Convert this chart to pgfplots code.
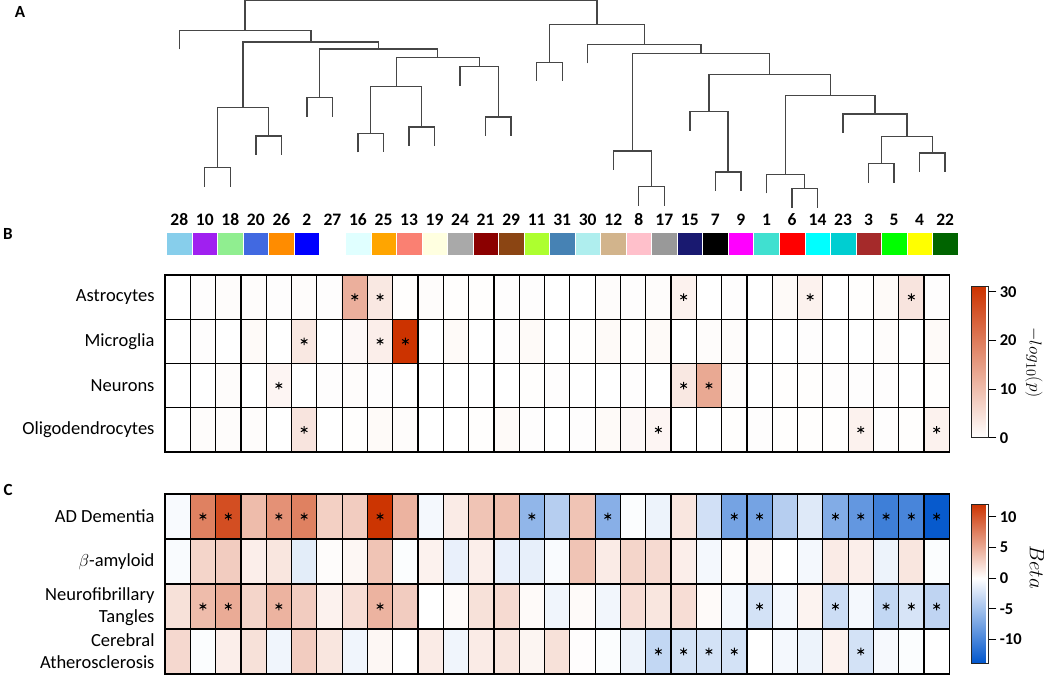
\documentclass[border=0pt]{standalone}
\usepackage{fontspec}
\setmainfont{Carlito}
\usepackage{pgfplots}
\pgfplotsset{compat=1.18}

\newcommand{\rowfont}{\fontsize{18.5}{22}\selectfont}
\newcommand{\numfont}{\fontsize{17.5}{20}\selectfont\bfseries}
\newcommand{\cbfont}{\fontsize{16.5}{20}\selectfont\bfseries}

\definecolor{dgray}{RGB}{70,70,70}
% cluster colours, strip order
\definecolor{s28}{RGB}{135,206,235}
\definecolor{s10}{RGB}{160,32,240}
\definecolor{s18}{RGB}{144,238,144}
\definecolor{s20}{RGB}{65,105,225}
\definecolor{s26}{RGB}{255,140,0}
\definecolor{s2}{RGB}{0,0,255}
\definecolor{s27}{RGB}{255,255,255}
\definecolor{s16}{RGB}{224,255,255}
\definecolor{s25}{RGB}{255,165,0}
\definecolor{s13}{RGB}{250,128,114}
\definecolor{s19}{RGB}{255,255,224}
\definecolor{s24}{RGB}{169,169,169}
\definecolor{s21}{RGB}{139,0,0}
\definecolor{s29}{RGB}{139,69,19}
\definecolor{s11}{RGB}{173,255,47}
\definecolor{s31}{RGB}{70,130,180}
\definecolor{s30}{RGB}{175,238,238}
\definecolor{s12}{RGB}{210,180,140}
\definecolor{s8}{RGB}{255,192,203}
\definecolor{s17}{RGB}{153,153,153}
\definecolor{s15}{RGB}{25,25,112}
\definecolor{s7}{RGB}{0,0,0}
\definecolor{s9}{RGB}{255,0,255}
\definecolor{s1}{RGB}{64,224,208}
\definecolor{s6}{RGB}{255,0,0}
\definecolor{s14}{RGB}{0,255,255}
\definecolor{s23}{RGB}{0,206,209}
\definecolor{s3}{RGB}{165,42,42}
\definecolor{s5}{RGB}{0,255,0}
\definecolor{s4}{RGB}{255,255,0}
\definecolor{s22}{RGB}{0,100,0}

\pgfplotsset{
  mydnd/.style={color=dgray, line width=1.3pt, mark=none},
  myheat/.style={
    scale only axis, width=784.3pt,
    xmin=-0.5, xmax=30.5, ymin=-0.5, ymax=3.5, y dir=reverse,
    xtick={-0.5,0.5,...,30.5}, xticklabels={}, xmajorgrids,
    ytick={0,1,2,3}, major tick length=0pt,
    extra y ticks={0.5,1.5,2.5}, extra y tick labels={},
    extra y tick style={grid=major},
    major grid style={black, line width=1.2pt},
    yticklabel style={font=\rowfont, align=right, xshift=-7pt},
    axis line style={black, line width=1.2pt},
    axis on top, clip=false, colorbar,
  },
  mycells/.style={matrix plot*, mesh/cols=31, point meta=explicit, draw=none},
  mystars/.style={only marks, mark=asterisk, mark size=3.8pt, black, mark options={line width=1pt}},
  mycbar/.style={
    scale only axis, at={(parent axis.north east)}, anchor=north west,
    width=17pt, xshift=13.5pt,
    axis line style={draw=black!85, line width=0.9pt},
    tick align=outside, ytick pos=right, yticklabel pos=right,
    major tick length=8pt, tick style={black, line width=1pt},
    yticklabel style={font=\cbfont},
  },
}

\begin{document}
\begin{tikzpicture}
\useasboundingbox (0pt,0pt) rectangle (1050pt,675pt);

% panel letters
\node[font=\fontsize{17}{20}\selectfont\bfseries] at (20pt,663pt) {A};
\node[font=\fontsize{17}{20}\selectfont\bfseries] at (8pt,441pt) {B};
\node[font=\fontsize{17}{20}\selectfont\bfseries] at (8pt,185pt) {C};

% dendrogram
\begin{axis}[scale only axis, at={(166.5pt,675pt)}, anchor=north west,
  width=791.4pt, height=210pt, xmin=-0.5, xmax=30.5, ymin=0, ymax=210,
  y dir=reverse, hide axis, clip=false]
\addplot[mydnd] coordinates {(1,186.7)(1,167.7)(2,167.7)(2,186.7)};
\addplot[mydnd] coordinates {(3,155)(3,136)(4,136)(4,155)};
\addplot[mydnd] coordinates {(1.5,167.7)(1.5,107.7)(3.5,107.7)(3.5,136)};
\addplot[mydnd] coordinates {(5,116.7)(5,97.7)(6,97.7)(6,116.7)};
\addplot[mydnd] coordinates {(7,152.3)(7,133.3)(8,133.3)(8,152.3)};
\addplot[mydnd] coordinates {(9,146)(9,127)(10,127)(10,146)};
\addplot[mydnd] coordinates {(7.5,133.3)(7.5,86.3)(9.5,86.3)(9.5,127)};
\addplot[mydnd] coordinates {(12,136)(12,117)(13,117)(13,136)};
\addplot[mydnd] coordinates {(11,85.7)(11,66.7)(12.5,66.7)(12.5,117)};
\addplot[mydnd] coordinates {(8.5,86.3)(8.5,57.3)(11.75,57.3)(11.75,66.7)};
\addplot[mydnd] coordinates {(5.5,97.7)(5.5,49)(10.125,49)(10.125,57.3)};
\addplot[mydnd] coordinates {(2.5,107.7)(2.5,42)(7.8125,42)(7.8125,49)};
\addplot[mydnd] coordinates {(0,49.3)(0,30.7)(5.156,30.7)(5.156,42)};
\addplot[mydnd] coordinates {(14,81)(14,62.3)(15,62.3)(15,81)};
\addplot[mydnd] coordinates {(18,205.7)(18,186.7)(19,186.7)(19,205.7)};
\addplot[mydnd] coordinates {(17,170)(17,151)(18.5,151)(18.5,186.7)};
\addplot[mydnd] coordinates {(21,191)(21,172)(22,172)(22,191)};
\addplot[mydnd] coordinates {(20,130.7)(20,111.7)(21.5,111.7)(21.5,172)};
\addplot[mydnd] coordinates {(24,207.7)(24,188.7)(25,188.7)(25,207.7)};
\addplot[mydnd] coordinates {(23,193.3)(23,174.3)(24.5,174.3)(24.5,188.7)};
\addplot[mydnd] coordinates {(27,182.7)(27,163.7)(28,163.7)(28,182.7)};
\addplot[mydnd] coordinates {(29,172)(29,153)(30,153)(30,172)};
\addplot[mydnd] coordinates {(27.5,163.7)(27.5,136.7)(29.5,136.7)(29.5,153)};
\addplot[mydnd] coordinates {(26,133)(26,114)(28.5,114)(28.5,136.7)};
\addplot[mydnd] coordinates {(23.75,174.3)(23.75,95.3)(27.25,95.3)(27.25,114)};
\addplot[mydnd] coordinates {(20.75,111.7)(20.75,74.3)(25.5,74.3)(25.5,95.3)};
\addplot[mydnd] coordinates {(17.75,151)(17.75,53.3)(23.125,53.3)(23.125,74.3)};
\addplot[mydnd] coordinates {(16,63.3)(16,44.3)(20.4375,44.3)(20.4375,53.3)};
\addplot[mydnd] coordinates {(14.5,62.3)(14.5,24.3)(18.219,24.3)(18.219,44.3)};
\addplot[mydnd] coordinates {(2.578,30.7)(2.578,0.8)(16.359,0.8)(16.359,24.3)};
\end{axis}

% colour strip
\begin{axis}[scale only axis, at={(166.5pt,442.3pt)}, anchor=north west,
  width=791.4pt, height=22.3pt, xmin=-0.5, xmax=30.5, ymin=0, ymax=1,
  axis line style={draw=none}, ytick=\empty, major tick length=0pt,
  xtick={0,...,30}, xticklabel pos=upper,
  xticklabels={28,10,18,20,26,2,27,16,25,13,19,24,21,29,11,31,30,12,8,17,15,7,9,1,6,14,23,3,5,4,22},
  xticklabel style={font=\numfont, yshift=3.5pt}]
\addplot[fill=s28, draw=white] coordinates {(-0.5,0)(0.5,0)(0.5,1)(-0.5,1)} -- cycle;
\addplot[fill=s10, draw=white] coordinates {(0.5,0)(1.5,0)(1.5,1)(0.5,1)} -- cycle;
\addplot[fill=s18, draw=white] coordinates {(1.5,0)(2.5,0)(2.5,1)(1.5,1)} -- cycle;
\addplot[fill=s20, draw=white] coordinates {(2.5,0)(3.5,0)(3.5,1)(2.5,1)} -- cycle;
\addplot[fill=s26, draw=white] coordinates {(3.5,0)(4.5,0)(4.5,1)(3.5,1)} -- cycle;
\addplot[fill=s2, draw=white] coordinates {(4.5,0)(5.5,0)(5.5,1)(4.5,1)} -- cycle;
\addplot[fill=s27, draw=white] coordinates {(5.5,0)(6.5,0)(6.5,1)(5.5,1)} -- cycle;
\addplot[fill=s16, draw=white] coordinates {(6.5,0)(7.5,0)(7.5,1)(6.5,1)} -- cycle;
\addplot[fill=s25, draw=white] coordinates {(7.5,0)(8.5,0)(8.5,1)(7.5,1)} -- cycle;
\addplot[fill=s13, draw=white] coordinates {(8.5,0)(9.5,0)(9.5,1)(8.5,1)} -- cycle;
\addplot[fill=s19, draw=white] coordinates {(9.5,0)(10.5,0)(10.5,1)(9.5,1)} -- cycle;
\addplot[fill=s24, draw=white] coordinates {(10.5,0)(11.5,0)(11.5,1)(10.5,1)} -- cycle;
\addplot[fill=s21, draw=white] coordinates {(11.5,0)(12.5,0)(12.5,1)(11.5,1)} -- cycle;
\addplot[fill=s29, draw=white] coordinates {(12.5,0)(13.5,0)(13.5,1)(12.5,1)} -- cycle;
\addplot[fill=s11, draw=white] coordinates {(13.5,0)(14.5,0)(14.5,1)(13.5,1)} -- cycle;
\addplot[fill=s31, draw=white] coordinates {(14.5,0)(15.5,0)(15.5,1)(14.5,1)} -- cycle;
\addplot[fill=s30, draw=white] coordinates {(15.5,0)(16.5,0)(16.5,1)(15.5,1)} -- cycle;
\addplot[fill=s12, draw=white] coordinates {(16.5,0)(17.5,0)(17.5,1)(16.5,1)} -- cycle;
\addplot[fill=s8, draw=white] coordinates {(17.5,0)(18.5,0)(18.5,1)(17.5,1)} -- cycle;
\addplot[fill=s17, draw=white] coordinates {(18.5,0)(19.5,0)(19.5,1)(18.5,1)} -- cycle;
\addplot[fill=s15, draw=white] coordinates {(19.5,0)(20.5,0)(20.5,1)(19.5,1)} -- cycle;
\addplot[fill=s7, draw=white] coordinates {(20.5,0)(21.5,0)(21.5,1)(20.5,1)} -- cycle;
\addplot[fill=s9, draw=white] coordinates {(21.5,0)(22.5,0)(22.5,1)(21.5,1)} -- cycle;
\addplot[fill=s1, draw=white] coordinates {(22.5,0)(23.5,0)(23.5,1)(22.5,1)} -- cycle;
\addplot[fill=s6, draw=white] coordinates {(23.5,0)(24.5,0)(24.5,1)(23.5,1)} -- cycle;
\addplot[fill=s14, draw=white] coordinates {(24.5,0)(25.5,0)(25.5,1)(24.5,1)} -- cycle;
\addplot[fill=s23, draw=white] coordinates {(25.5,0)(26.5,0)(26.5,1)(25.5,1)} -- cycle;
\addplot[fill=s3, draw=white] coordinates {(26.5,0)(27.5,0)(27.5,1)(26.5,1)} -- cycle;
\addplot[fill=s5, draw=white] coordinates {(27.5,0)(28.5,0)(28.5,1)(27.5,1)} -- cycle;
\addplot[fill=s4, draw=white] coordinates {(28.5,0)(29.5,0)(29.5,1)(28.5,1)} -- cycle;
\addplot[fill=s22, draw=white] coordinates {(29.5,0)(30.5,0)(30.5,1)(29.5,1)} -- cycle;
\end{axis}

% B: cell-type enrichment, -log10(p)
\begin{axis}[myheat, at={(165pt,400pt)}, anchor=north west, height=177pt,
  yticklabels={Astrocytes,Microglia,Neurons,Oligodendrocytes},
  colormap={reds}{rgb255=(255,255,255) rgb255=(204,51,0)},
  point meta min=0, point meta max=31,
  colorbar style={mycbar, height=150.9pt, yshift=-11.8pt,
    ytick={0,10,20,30}, yticklabels={0,10,20,30}}]
\addplot[mycells] coordinates {
(0,0)[0] (1,0)[0.3] (2,0)[0.5] (3,0)[0.5] (4,0)[0.3] (5,0)[0.5] (6,0)[0.3] (7,0)[12] (8,0)[3.5] (9,0)[0.2] (10,0)[0.5] (11,0)[0.2] (12,0)[0.2] (13,0)[0.3] (14,0)[0.3] (15,0)[0] (16,0)[0] (17,0)[0.5] (18,0)[0.3] (19,0)[0.5] (20,0)[2] (21,0)[0] (22,0)[0.3] (23,0)[0] (24,0)[0.8] (25,0)[2] (26,0)[0] (27,0)[0.2] (28,0)[0.8] (29,0)[4] (30,0)[0.3]
(0,1)[0] (1,1)[0.3] (2,1)[0] (3,1)[0.8] (4,1)[0] (5,1)[3.5] (6,1)[0] (7,1)[1] (8,1)[2.5] (9,1)[31] (10,1)[0] (11,1)[0.8] (12,1)[0] (13,1)[0.3] (14,1)[0.8] (15,1)[0] (16,1)[0.2] (17,1)[0.8] (18,1)[0.2] (19,1)[0.8] (20,1)[0] (21,1)[0.5] (22,1)[0.5] (23,1)[0] (24,1)[0] (25,1)[0.3] (26,1)[0] (27,1)[0] (28,1)[0.5] (29,1)[0] (30,1)[0.8]
(0,2)[0] (1,2)[0] (2,2)[0.5] (3,2)[0] (4,2)[1.5] (5,2)[0] (6,2)[0.3] (7,2)[0.5] (8,2)[0.3] (9,2)[0] (10,2)[0] (11,2)[0] (12,2)[0] (13,2)[0] (14,2)[0.2] (15,2)[0.3] (16,2)[0] (17,2)[0] (18,2)[0.3] (19,2)[0] (20,2)[3.5] (21,2)[13] (22,2)[0.5] (23,2)[0] (24,2)[0.2] (25,2)[0.2] (26,2)[0.3] (27,2)[0.3] (28,2)[0.3] (29,2)[0] (30,2)[0.2]
(0,3)[0] (1,3)[0.5] (2,3)[0.5] (3,3)[0.5] (4,3)[0] (5,3)[4] (6,3)[0] (7,3)[0.2] (8,3)[0.8] (9,3)[0.5] (10,3)[0] (11,3)[0] (12,3)[0.2] (13,3)[0.8] (14,3)[0.3] (15,3)[0] (16,3)[0.3] (17,3)[0.8] (18,3)[1] (19,3)[1.5] (20,3)[0] (21,3)[0] (22,3)[0.2] (23,3)[0.3] (24,3)[0.2] (25,3)[0.2] (26,3)[0.2] (27,3)[2] (28,3)[0.3] (29,3)[0.2] (30,3)[2]
};
\addplot[mystars] coordinates {(7,0)(8,0)(20,0)(25,0)(29,0)(5,1)(8,1)(9,1)(4,2)(20,2)(21,2)(5,3)(19,3)(27,3)(30,3)};
\end{axis}

% C: association with traits, beta
\begin{axis}[myheat, at={(165pt,181pt)}, anchor=north west, height=180pt,
  yticklabels={AD Dementia,{$\beta$-amyloid},{Neurofibrillary\\Tangles},{Cerebral\\Atherosclerosis}},
  colormap={bwr}{rgb255(0pt)=(0,85,204) rgb255(139pt)=(255,255,255) rgb255(260pt)=(204,51,0)},
  point meta min=-13.9, point meta max=12.1,
  colorbar style={mycbar, height=159.4pt, yshift=-10pt,
    ytick={-10,-5,0,5,10}, yticklabels={-10,-5,0,5,10}}]
\addplot[mycells] coordinates {
(0,0)[-0.4] (1,0)[7.5] (2,0)[10.5] (3,0)[4] (4,0)[6.5] (5,0)[7.5] (6,0)[2.8] (7,0)[3] (8,0)[12] (9,0)[4.5] (10,0)[-0.6] (11,0)[1.2] (12,0)[3.5] (13,0)[3.8] (14,0)[-6] (15,0)[-4] (16,0)[3.5] (17,0)[-6.5] (18,0)[-0.2] (19,0)[-1] (20,0)[1.5] (21,0)[-2.5] (22,0)[-7.5] (23,0)[-7.5] (24,0)[-4] (25,0)[-1.8] (26,0)[-6.8] (27,0)[-8.5] (28,0)[-10.5] (29,0)[-10] (30,0)[-13.5]
(0,1)[-0.3] (1,1)[2.5] (2,1)[3] (3,1)[1] (4,1)[1.5] (5,1)[-1.5] (6,1)[0.2] (7,1)[0.5] (8,1)[3.5] (9,1)[-0.2] (10,1)[0.8] (11,1)[-1.2] (12,1)[1] (13,1)[-1.2] (14,1)[-1.3] (15,1)[-0.3] (16,1)[3.5] (17,1)[1.2] (18,1)[2.5] (19,1)[2.2] (20,1)[1] (21,1)[-0.6] (22,1)[0.2] (23,1)[0.5] (24,1)[0] (25,1)[-0.6] (26,1)[1.2] (27,1)[1] (28,1)[-1] (29,1)[1.5] (30,1)[-0.2]
(0,2)[1.8] (1,2)[4] (2,2)[5] (3,2)[2.5] (4,2)[4.5] (5,2)[3] (6,2)[0.8] (7,2)[2] (8,2)[4.5] (9,2)[3] (10,2)[0] (11,2)[0.3] (12,2)[1.8] (13,2)[2.2] (14,2)[0.3] (15,2)[-0.8] (16,2)[0.3] (17,2)[-0.7] (18,2)[2] (19,2)[1.5] (20,2)[2] (21,2)[0.3] (22,2)[-0.6] (23,2)[-2.4] (24,2)[-0.6] (25,2)[0.7] (26,2)[-2.8] (27,2)[-0.6] (28,2)[-3.3] (29,2)[-2.2] (30,2)[-3.5]
(0,3)[2.3] (1,3)[-0.2] (2,3)[1] (3,3)[1.8] (4,3)[-0.8] (5,3)[3] (6,3)[1.5] (7,3)[-0.8] (8,3)[0.5] (9,3)[0] (10,3)[1.2] (11,3)[-0.8] (12,3)[1.2] (13,3)[1.5] (14,3)[0.6] (15,3)[1.8] (16,3)[0.1] (17,3)[-0.2] (18,3)[-1] (19,3)[-3.3] (20,3)[-2.4] (21,3)[-2.4] (22,3)[-2.4] (23,3)[0] (24,3)[-0.6] (25,3)[-1] (26,3)[0.8] (27,3)[-2.4] (28,3)[-0.5] (29,3)[-0.2] (30,3)[0]
};
\addplot[mystars] coordinates {(1,0)(2,0)(4,0)(5,0)(8,0)(14,0)(17,0)(22,0)(23,0)(26,0)(27,0)(28,0)(29,0)(30,0)
  (1,2)(2,2)(4,2)(8,2)(23,2)(26,2)(28,2)(29,2)(30,2)(19,3)(20,3)(21,3)(22,3)(27,3)};
\end{axis}

% colour bar titles
\node[rotate=-90, font=\fontsize{19}{21}\selectfont] at (1034pt,312.5pt) {$-log_{10}(p)$};
\node[rotate=-90, font=\fontsize{20}{22}\selectfont] at (1037pt,108pt) {$Beta$};
\end{tikzpicture}
\end{document}
